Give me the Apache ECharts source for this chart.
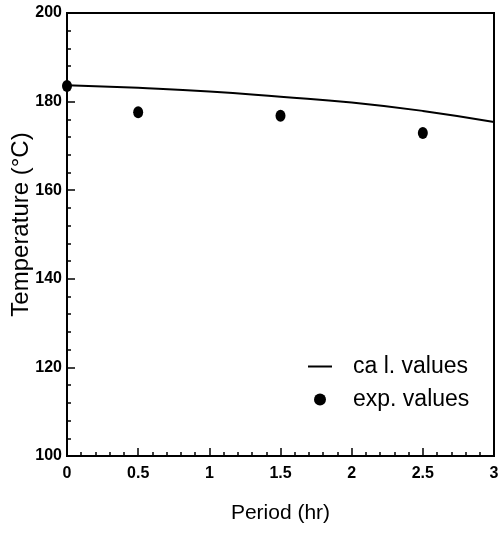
<!DOCTYPE html>
<html>
<head>
<meta charset="utf-8">
<script src="https://cdn.jsdelivr.net/npm/echarts@6/dist/echarts.min.js"></script>
<style>
html, body { margin: 0; padding: 0; background: #fff; }
#chart { width: 501px; height: 533px; }
</style>
</head>
<body>
<div id="chart"></div>
<script>
// calculated curve (period hr, temperature C)
var calcPeriod = [0, 0.5, 1, 1.5, 2, 2.5, 3];
var calcTemp = [183.7, 183.1, 182.3, 181.1, 179.8, 177.9, 175.4];
// measured points
var expPeriod = [0, 0.5, 1.5, 2.5];
var expTemp = [183.5, 177.6, 176.8, 172.9];

var xTicks = ['0', '0.5', '1', '1.5', '2', '2.5', '3'];

function pairs(xs, ys) {
    var out = [];
    for (var i = 0; i < xs.length; i++) {
        out.push([xs[i], ys[i]]);
    }
    return out;
}

var fontFam = 'Liberation Sans, Arial, sans-serif';
var chart = echarts.init(document.getElementById('chart'));
chart.setOption({
    animation: false,
    backgroundColor: '#fff',
    grid: {
        left: 67, right: 7, top: 13, bottom: 77,
        outerBoundsMode: 'none', containLabel: false,
        show: true, borderColor: '#000', borderWidth: 2
    },
    legend: {
        orient: 'vertical',
        left: 308, top: 355, padding: 0,
        itemGap: 10,
        itemWidth: 24, itemHeight: 12,
        textStyle: { fontFamily: fontFam, fontSize: 23, color: '#000', padding: [0, 0, 0, 16] },
        data: [
            { name: 'ca l. values', icon: 'path://M0,5 L24,5 L24,7 L0,7 Z' },
            { name: 'exp. values', icon: 'circle' }
        ]
    },
    xAxis: {
        type: 'value', min: 0, max: 3, interval: 0.5,
        name: 'Period (hr)', nameLocation: 'middle', nameGap: 47,
        nameMoveOverlap: false,
        nameTextStyle: { fontFamily: fontFam, fontSize: 21, color: '#000' },
        axisLine: { lineStyle: { color: '#000', width: 2 } },
        axisTick: { inside: true, length: 8, lineStyle: { color: '#000', width: 1.5 } },
        minorTick: { show: true, splitNumber: 5, length: 4, lineStyle: { color: '#000', width: 1.5 } },
        splitLine: { show: false },
        axisLabel: {
            fontFamily: fontFam, fontSize: 16, fontWeight: 'bold', color: '#000', margin: 10,
            formatter: function (v) {
                var i = Math.round(v * 2);
                return xTicks[i] !== undefined ? xTicks[i] : '';
            }
        }
    },
    yAxis: {
        type: 'value', min: 100, max: 200, interval: 20,
        name: 'Temperature (°C)', nameLocation: 'middle', nameGap: 34,
        nameMoveOverlap: false,
        nameTextStyle: { fontFamily: fontFam, fontSize: 24, color: '#000', padding: [0, 0, 0, 20] },
        axisLine: { lineStyle: { color: '#000', width: 2 } },
        axisTick: { inside: true, length: 8, lineStyle: { color: '#000', width: 1.5 } },
        minorTick: { show: true, splitNumber: 5, length: 4, lineStyle: { color: '#000', width: 1.5 } },
        splitLine: { show: false },
        axisLabel: { fontFamily: fontFam, fontSize: 16, fontWeight: 'bold', color: '#000', margin: 5 }
    },
    series: [
        {
            name: 'ca l. values', type: 'line', smooth: true,
            data: pairs(calcPeriod, calcTemp),
            showSymbol: false, symbol: 'none',
            lineStyle: { color: '#000', width: 2 },
            itemStyle: { color: '#000' }
        },
        {
            name: 'exp. values', type: 'scatter',
            data: pairs(expPeriod, expTemp),
            symbol: 'circle', symbolSize: [10, 12],
            itemStyle: { color: '#000', opacity: 1 }
        }
    ]
});
</script>
</body>
</html>
